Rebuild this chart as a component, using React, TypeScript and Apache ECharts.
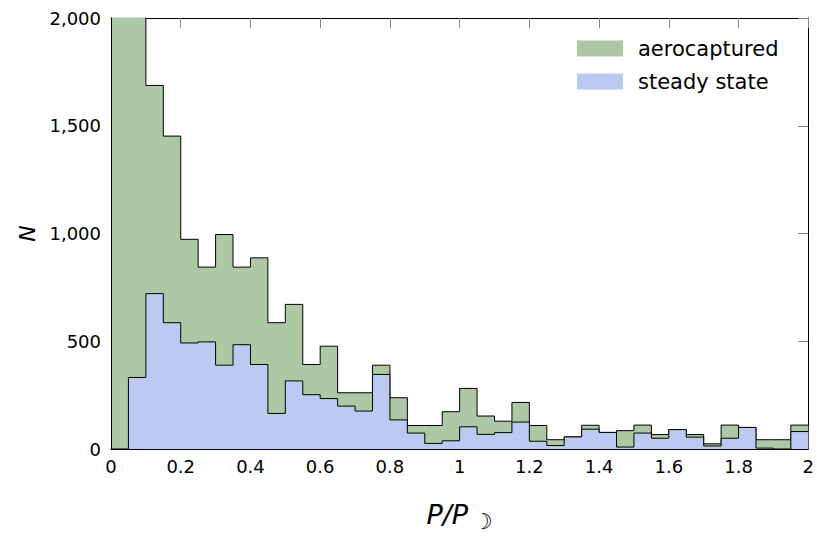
import React, { useEffect, useRef } from "react";
import * as echarts from "echarts";

// Bin left edges (width 0.05) of P/P_moon from 0 to 2
const binWidth = 0.05;
const binStarts = Array.from({ length: 40 }, (_, i) => +(i * binWidth).toFixed(2));

// counts per bin
const steadyState = [
  0, 332, 721, 586, 492, 497, 389, 484, 392, 165,
  316, 252, 234, 199, 176, 346, 135, 74, 26, 38,
  103, 68, 76, 125, 36, 16, 56, 92, 77, 9,
  74, 50, 90, 55, 14, 50, 100, 4, 0, 81,
];
const aerocaptured = [
  2700, 2068, 966, 866, 481, 347, 606, 360, 495, 421,
  355, 140, 243, 62, 85, 43, 103, 35, 83, 135,
  178, 85, 53, 91, 73, 27, 0, 18, 0, 76,
  37, 17, 0, 12, 10, 61, 0, 39, 43, 30,
];

const xTicks = [0, 0.2, 0.4, 0.6, 0.8, 1, 1.2, 1.4, 1.6, 1.8, 2];
const yTicks = [0, 500, 1000, 1500, 2000];

const GREEN = "#adc8a5";
const BLUE = "#bcc9f3";
const FONT = "DejaVu Sans";

function stepData(vals: number[]) {
  const pts: [number, number][] = vals.map((v, i) => [binStarts[i], v]);
  pts.push([binStarts[binStarts.length - 1] + binWidth, vals[vals.length - 1]]);
  return pts;
}

export default function App() {
  const ref = useRef<HTMLDivElement>(null);
  useEffect(() => {
    if (!ref.current) return;
    const chart = echarts.init(ref.current, null, { renderer: "svg" });
    const totals = steadyState.map((s, i) => s + aerocaptured[i]);
    const fmtX = (v: number) => (xTicks.includes(+v.toFixed(2)) ? String(+v.toFixed(2)) : "");
    const fmtY = (v: number) => (yTicks.includes(v) ? v.toLocaleString("en-US") : "");
    chart.setOption({
      animation: false,
      textStyle: { fontFamily: FONT },
      grid: { left: 111, top: 18, width: 698, height: 439 },
      legend: {
        orient: "vertical",
        left: 577,
        top: 38,
        padding: 0,
        itemGap: 12,
        itemWidth: 46,
        itemHeight: 16,
        icon: "rect",
        itemStyle: { borderWidth: 0 },
        textStyle: { fontFamily: FONT, fontSize: 21, color: "#000", padding: [0, 0, 0, 10] },
        data: [
          { name: "aerocaptured", itemStyle: { color: GREEN } },
          { name: "steady state", itemStyle: { color: BLUE } },
        ],
      },
      xAxis: [
        {
          type: "value",
          min: 0,
          max: 2,
          interval: 0.2,
          position: "bottom",
          z: 10,
          axisLine: { show: true, onZero: false, lineStyle: { color: "#000", width: 1 } },
          axisTick: { show: false },
          splitLine: { show: false },
          axisLabel: { color: "#000", fontSize: 18, fontFamily: FONT, margin: 8, formatter: fmtX },
          name: "{i|P/P}{s|☽}",
          nameLocation: "middle",
          nameGap: 47,
          nameTextStyle: {
            rich: {
              i: { fontFamily: FONT, fontStyle: "italic", fontSize: 27, color: "#000" },
              s: { fontFamily: FONT, fontSize: 22, color: "#000", padding: [14, 0, 0, 5] },
            },
          },
        },
        {
          type: "value",
          min: 0,
          max: 2,
          interval: 0.2,
          position: "top",
          axisLine: { show: true, onZero: false, lineStyle: { color: "#000", width: 1 } },
          axisTick: { show: true, inside: true, length: 10, lineStyle: { color: "#888" } },
          splitLine: { show: false },
          axisLabel: { show: false },
        },
      ],
      yAxis: [
        {
          type: "value",
          min: 0,
          max: 2000,
          interval: 500,
          position: "left",
          z: 10,
          axisLine: { show: true, onZero: false, lineStyle: { color: "#000", width: 1 } },
          axisTick: { show: false },
          splitLine: { show: false },
          axisLabel: { color: "#000", fontSize: 18, fontFamily: FONT, margin: 10, formatter: fmtY },
          name: "N",
          nameLocation: "middle",
          nameGap: 68,
          nameTextStyle: { fontFamily: FONT, fontStyle: "italic", fontSize: 22, color: "#000" },
        },
        {
          type: "value",
          min: 0,
          max: 2000,
          interval: 500,
          position: "right",
          axisLine: { show: true, onZero: false, lineStyle: { color: "#000", width: 1 } },
          axisTick: { show: true, inside: true, length: 10, lineStyle: { color: "#888" } },
          splitLine: { show: false },
          axisLabel: { show: false },
        },
      ],
      series: [
        {
          name: "aerocaptured",
          type: "line",
          step: "end",
          xAxisIndex: 0,
          yAxisIndex: 0,
          showSymbol: false,
          symbol: "none",
          clip: true,
          data: stepData(totals),
          itemStyle: { color: GREEN },
          lineStyle: { color: "#000", width: 1 },
          areaStyle: { color: GREEN, opacity: 1 },
          z: 2,
        },
        {
          name: "steady state",
          type: "line",
          step: "end",
          xAxisIndex: 0,
          yAxisIndex: 0,
          showSymbol: false,
          symbol: "none",
          clip: true,
          data: stepData(steadyState),
          itemStyle: { color: BLUE },
          lineStyle: { color: "#000", width: 1 },
          areaStyle: { color: BLUE, opacity: 1 },
          z: 3,
        },
      ],
    });
    return () => chart.dispose();
  }, []);
  return (
    <div
      ref={ref}
      style={{ position: "fixed", left: 0, top: 0, width: 817, height: 537, background: "#fff" }}
    />
  );
}
